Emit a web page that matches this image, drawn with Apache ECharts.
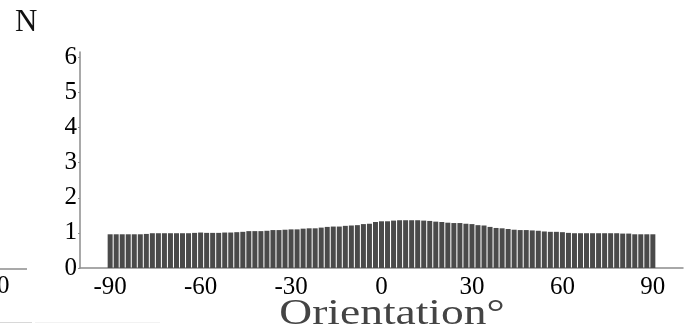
<!DOCTYPE html>
<html>
<head>
<meta charset="utf-8">
<script src="https://cdn.jsdelivr.net/npm/echarts@6/dist/echarts.min.js"></script>
<style>
  html, body { margin: 0; padding: 0; background: #fff; }
  #main { width: 687px; height: 334px; }
</style>
</head>
<body>
<div id="main"></div>
<script>
// bin centres (degrees), 2 degree bins
var orientation = [
  -90, -88, -86, -84, -82, -80, -78, -76, -74, -72, -70, -68, -66, -64, -62, -60,
  -58, -56, -54, -52, -50, -48, -46, -44, -42, -40, -38, -36, -34, -32, -30,
  -28, -26, -24, -22, -20, -18, -16, -14, -12, -10, -8, -6, -4, -2, 0,
  2, 4, 6, 8, 10, 12, 14, 16, 18, 20, 22, 24, 26, 28, 30,
  32, 34, 36, 38, 40, 42, 44, 46, 48, 50, 52, 54, 56, 58, 60,
  62, 64, 66, 68, 70, 72, 74, 76, 78, 80, 82, 84, 86, 88, 90
];
var counts = [
  0.96, 0.96, 0.96, 0.96, 0.96, 0.96, 0.97, 0.99, 0.99, 0.99, 0.99, 0.99, 0.99, 0.99, 1.00, 1.01,
  1.00, 1.00, 1.00, 1.01, 1.01, 1.02, 1.03, 1.05, 1.05, 1.05, 1.06, 1.08, 1.08, 1.09, 1.10,
  1.10, 1.12, 1.13, 1.13, 1.15, 1.17, 1.18, 1.18, 1.20, 1.21, 1.22, 1.25, 1.26, 1.31, 1.33,
  1.33, 1.35, 1.36, 1.36, 1.36, 1.36, 1.35, 1.34, 1.32, 1.31, 1.29, 1.28, 1.28, 1.26, 1.25,
  1.22, 1.21, 1.17, 1.14, 1.13, 1.11, 1.09, 1.08, 1.08, 1.07, 1.06, 1.04, 1.03, 1.03, 1.02,
  1.00, 0.99, 0.99, 0.99, 0.99, 0.99, 0.99, 0.99, 0.99, 0.98, 0.98, 0.96, 0.96, 0.96, 0.96
];
var xTicks = [-90, -60, -30, 0, 30, 60, 90];
var yTicks = [0, 1, 2, 3, 4, 5, 6];

var serif = '"Liberation Serif", "DejaVu Serif", serif';
var myChart = echarts.init(document.getElementById('main'));

var barData = [];
for (var i = 0; i < orientation.length; i++) {
  barData.push([orientation[i], counts[i]]);
}

var option = {
  animation: false,
  grid: { left: 80, right: 4, top: 52, bottom: 66, containLabel: false },
  xAxis: {
    type: 'value',
    min: -100,
    max: 100,
    axisLine: { lineStyle: { color: '#8c8c8c', width: 1.5 } },
    axisTick: { inside: true, length: 3, customValues: xTicks, lineStyle: { color: '#8c8c8c' } },
    axisLabel: { customValues: xTicks, color: '#000', fontFamily: serif, fontSize: 25, margin: 7 },
    splitLine: { show: false }
  },
  yAxis: {
    type: 'value',
    min: 0,
    max: 6.15,
    axisLine: { show: true, onZero: false, lineStyle: { color: '#8c8c8c', width: 1.5 } },
    axisTick: { show: true, length: 2, customValues: yTicks, lineStyle: { color: '#8c8c8c' } },
    axisLabel: { customValues: yTicks, color: '#000', fontFamily: serif, fontSize: 25, margin: 3, padding: [5, 0, 0, 0] },
    splitLine: { show: false }
  },
  series: [{
    type: 'bar',
    data: barData,
    barWidth: 5,
    itemStyle: { color: '#4a4a4a' }
  }],
  graphic: [
    { type: 'text', left: 15, top: 7, style: { text: 'N', font: '31px ' + serif, fill: '#111' } },
    { type: 'text', x: 392, y: 297, scaleX: 1.3, style: { text: 'Orientation°', font: '35px ' + serif, fill: '#444', align: 'center' } },
    // fragment of the neighbouring panel at the left edge
    { type: 'line', shape: { x1: 0, y1: 269, x2: 27, y2: 269 }, style: { stroke: '#8c8c8c', lineWidth: 1.5 } },
    { type: 'text', x: -3, y: 274, style: { text: '0', font: '25px ' + serif, fill: '#000' } },
    { type: 'line', shape: { x1: 0, y1: 322.5, x2: 32, y2: 322.5 }, style: { stroke: '#d8d8d8', lineWidth: 1 } },
    { type: 'line', shape: { x1: 35, y1: 322.5, x2: 160, y2: 322.5 }, style: { stroke: '#f2f2f2', lineWidth: 1 } }
  ]
};
myChart.setOption(option);
</script>
</body>
</html>
